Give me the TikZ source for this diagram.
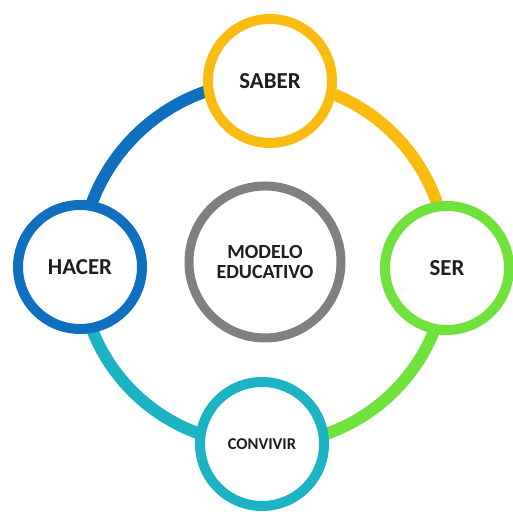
\documentclass[tikz,border=0pt]{standalone}
\usepackage{fontspec}
\setmainfont{Carlito}
\usetikzlibrary{backgrounds}
\definecolor{saberyellow}{HTML}{FBBC12}
\definecolor{serlime}{HTML}{70E23C}
\definecolor{convivirteal}{HTML}{1CB4C4}
\definecolor{hacerblue}{HTML}{1070C0}
\definecolor{modelogray}{HTML}{808080}
\definecolor{labelgray}{HTML}{1E1E1E}
\begin{document}
\begin{tikzpicture}[x=0.2mm,y=0.2mm]
\tikzstyle{every node}+=[inner sep=0pt]
\tikzstyle{ring}=[circle,draw,fill=white,line width=2mm,minimum size=24.8mm,text=labelgray,font=\fontsize{13}{14}\selectfont\bfseries]
\tikzstyle{link}=[line width=2.4mm]
\useasboundingbox (0,0) rectangle (513,512);
\node[ring,draw=saberyellow] (saber) at (270,431) {SABER};
\node[ring,draw=serlime] (ser) at (447,244) {SER};
\node[ring,draw=convivirteal,font=\fontsize{9.4}{11}\selectfont\bfseries] (convivir) at (262,68) {CONVIVIR};
\node[ring,draw=hacerblue] (hacer) at (80,245) {HACER};
\node[ring,draw=modelogray,line width=1.8mm,minimum size=30.4mm,align=center,font=\fontsize{11.4}{11.4}\selectfont\bfseries] (modelo) at (265,250) {MODELO\\EDUCATIVO};
\begin{pgfonlayer}{background}
\draw[link,hacerblue] (hacer.center) to[bend left=45] (saber.center);
\draw[link,saberyellow] (saber.center) to[bend left=45] (ser.center);
\draw[link,serlime] (ser.center) to[bend left=45] (convivir.center);
\draw[link,convivirteal] (convivir.center) to[bend left=45] (hacer.center);
\end{pgfonlayer}
\end{tikzpicture}
\end{document}
